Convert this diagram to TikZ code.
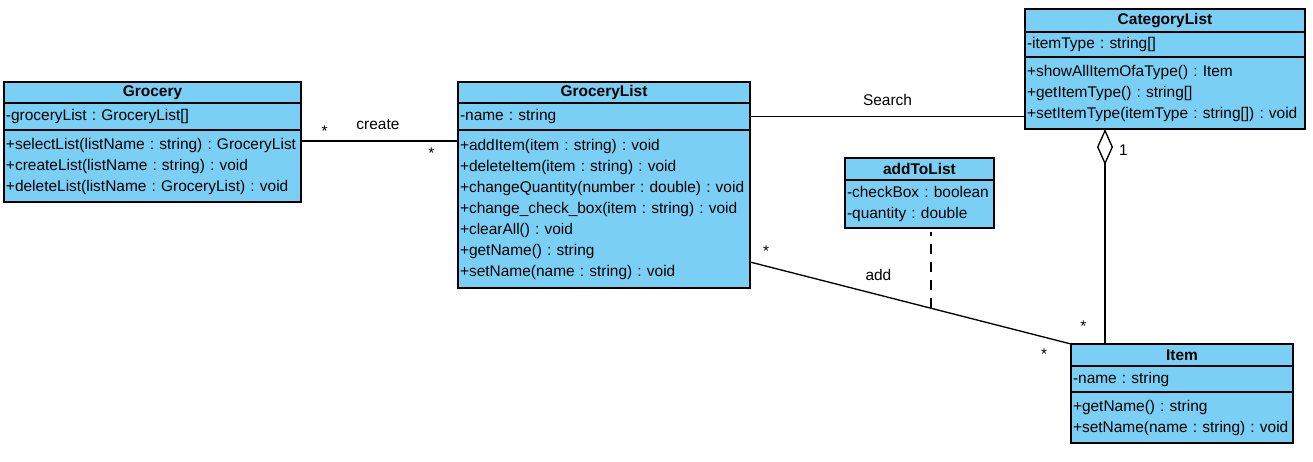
\documentclass[tikz,border=0pt]{standalone}
\usepackage{fontspec}
\setmainfont{Liberation Sans}
\usetikzlibrary{positioning,arrows.meta}
\definecolor{classblue}{RGB}{122,207,245}

\begin{document}
\begin{tikzpicture}[x=0.75pt,y=-0.75pt]

    \tikzset{
      classhead/.style={
        draw,
        fill=classblue,
        line width=1pt,
        outer sep=0pt,
        inner sep=0pt,
        anchor=north west,
        font=\fontsize{11.6}{15.75}\selectfont\bfseries,
      },
      compartment/.style={
        draw,
        fill=classblue,
        line width=1pt,
        outer sep=0pt,
        inner xsep=1.5pt,
        inner ysep=0pt,
        align=left,
        font=\fontsize{11.6}{15.75}\selectfont\frenchspacing,
      },
      lbl/.style={
        inner sep=1pt,
        font=\fontsize{11.6}{14}\selectfont,
      },
      assoc/.style={line width=1pt},
    }
    \useasboundingbox (0,0) rectangle (1313,461);

    % Grocery
    \node[classhead, minimum width=222.75pt, minimum height=15.75pt] (grocery) at (4,82) {Grocery};
    \node[compartment, text width=219.75pt, minimum height=20.25pt, below=0pt of grocery] (groceryattr)
      {-groceryList : GroceryList[]};
    \node[compartment, text width=219.75pt, minimum height=54pt, below=0pt of groceryattr] (grocerymeth)
      {+selectList(listName : string) : GroceryList\\
       +createList(listName : string) : void\\
       +deleteList(listName : GroceryList) : void};

    % GroceryList
    \node[classhead, minimum width=219pt, minimum height=15.75pt] (glist) at (458,82) {GroceryList};
    \node[compartment, text width=216pt, minimum height=20.25pt, below=0pt of glist] (glistattr)
      {-name : string};
    \node[compartment, text width=216pt, minimum height=118.5pt, below=0pt of glistattr] (glistmeth)
      {+addItem(item : string) : void\\
       +deleteItem(item : string) : void\\
       +changeQuantity(number : double) : void\\
       +change\_check\_box(item : string) : void\\
       +clearAll() : void\\
       +getName() : string\\
       +setName(name : string) : void};

    % CategoryList
    \node[classhead, minimum width=210pt, minimum height=17.25pt] (cat) at (1025,9) {CategoryList};
    \node[compartment, text width=207pt, minimum height=18.75pt, below=0pt of cat] (catattr)
      {-itemType : string[]};
    \node[compartment, text width=207pt, minimum height=54pt, below=0pt of catattr] (catmeth)
      {+showAllItemOfaType() : Item\\
       +getItemType() : string[]\\
       +setItemType(itemType : string[]) : void};

    % addToList
    \node[classhead, minimum width=111.75pt, minimum height=16.5pt] (atl) at (845,158) {addToList};
    \node[compartment, text width=108.75pt, minimum height=36pt, below=0pt of atl] (atlattr)
      {-checkBox : boolean\\
       -quantity : double};

    % Item
    \node[classhead, minimum width=166.5pt, minimum height=16.5pt] (itemhead) at (1071,344) {Item};
    \node[compartment, text width=163.5pt, minimum height=19.5pt, below=0pt of itemhead] (itemattr)
      {-name : string};
    \node[compartment, text width=163.5pt, minimum height=38.25pt, below=0pt of itemattr] (itemmeth)
      {+getName() : string\\
       +setName(name : string) : void};

    % associations
    \draw[assoc] ([yshift=-8.25pt]grocerymeth.north east) -- ([yshift=-8.25pt]glistmeth.north west)
      node[lbl, pos=0.15, above=2pt] {*}
      node[lbl, pos=0.49, above=7.25pt] {create}
      node[lbl, pos=0.83, below=3.4pt] {*};
    \draw[assoc] (glistattr.east) -- (glistattr.east -| catmeth.west)
      node[lbl, midway, above=6.5pt] {Search};
    \draw[assoc] ([yshift=19.5pt]glistmeth.south east) -- (itemhead.north west)
      node[lbl, pos=0.05, above=5.8pt] {*}
      node[lbl, pos=0.40, above=9pt] {add}
      coordinate[pos=0.564] (addjoin)
      node[lbl, pos=0.916, below=7pt] {*};
    \draw[assoc, dash pattern=on 7.5pt off 6pt] (addjoin) -- ([yshift=-3pt]addjoin |- atlattr.south);

    % aggregation
    \coordinate (aggfoot) at ([xshift=25.5pt]itemhead.north west);
    \draw[assoc, -{Diamond[open, length=27pt, width=12pt]}] (aggfoot) -- (aggfoot |- catmeth.south)
      node[lbl, pos=0.082, left=12.5pt] {*}
      node[lbl, pos=0.902, right=9pt] {1};

\end{tikzpicture}
\end{document}
